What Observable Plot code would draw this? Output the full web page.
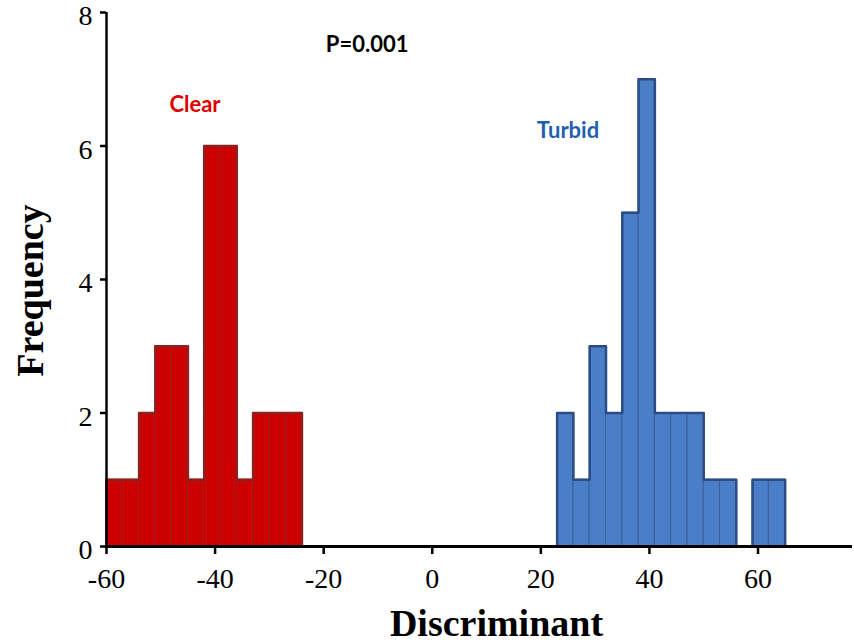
<!DOCTYPE html>
<html>
<head>
<meta charset="utf-8">
<script src="https://cdn.jsdelivr.net/npm/d3@7"></script>
<script src="https://cdn.jsdelivr.net/npm/@observablehq/plot@0.6"></script>
<style>
  html, body { margin: 0; padding: 0; background: #fff; }
  #chart svg { display: block; }
</style>
</head>
<body>
<div id="chart"></div>
<script>
// ---- data ----
const binWidth = 3;
const clearBinStart = [-60, -57, -54, -51, -48, -45, -42, -39, -36, -33, -30, -27];
const clearCounts   = [1, 1, 2, 3, 3, 1, 6, 6, 1, 2, 2, 2];
const turbidBinStart = [23, 26, 29, 32, 35, 38, 41, 44, 47, 50, 53, 56, 59, 62];
const turbidCounts   = [2, 1, 3, 2, 5, 7, 2, 2, 2, 1, 1, 0, 1, 1];
const xTicks = [-60, -40, -20, 0, 20, 40, 60];
const yTicks = [0, 2, 4, 6, 8];
const annoLabels = ["P=0.001", "Clear", "Turbid"];
const annoX = [-12.0, -43.7, 25.0];
const annoY = [7.52, 6.61, 6.23];
const xLabel = "Discriminant";
const yLabel = "Frequency";

// ---- tables built from the arrays ----
const bins = (starts, counts, group) =>
  starts.map((s, i) => ({x1: s, x2: s + binWidth, y: counts[i], group}));
const clearBins = bins(clearBinStart, clearCounts, "Clear");
const turbidBins = bins(turbidBinStart, turbidCounts, "Turbid");
const outline = (b) => {
  const pts = [{x: b[0].x1, y: 0}];
  b.forEach(d => { pts.push({x: d.x1, y: d.y}); pts.push({x: d.x2, y: d.y}); });
  pts.push({x: b[b.length - 1].x2, y: 0});
  return pts;
};
const annos = annoLabels.map((t, i) => ({t, x: annoX[i], y: annoY[i]}));

const serif = "'Liberation Serif', 'Times New Roman', serif";
const sans = "Lato, 'Open Sans', sans-serif";

const chart = Plot.plot({
  width: 854,
  height: 644,
  marginLeft: 106,
  marginRight: 2,
  marginTop: 12,
  marginBottom: 98,
  style: {fontFamily: serif, background: "#fff"},
  x: {domain: [-60, 77.4]},
  y: {domain: [0, 8]},
  marks: [
    Plot.rectY(clearBins.filter(d => d.y > 0), {x1: "x1", x2: "x2", y: "y", fill: "#CC0000", stroke: "#9A1E1E", strokeWidth: 1}),
    Plot.rectY(turbidBins.filter(d => d.y > 0), {x1: "x1", x2: "x2", y: "y", fill: "#4A7FC8", stroke: "#36609F", strokeWidth: 1}),
    Plot.line(outline(clearBins), {x: "x", y: "y", stroke: "#8A2222", strokeWidth: 2.5, strokeLinejoin: "round"}),
    Plot.line(outline(turbidBins), {x: "x", y: "y", stroke: "#2B4C85", strokeWidth: 2.5, strokeLinejoin: "round"}),
    Plot.ruleX([-60], {stroke: "#000", strokeWidth: 2.5}),
    Plot.ruleY([0], {stroke: "#000", strokeWidth: 3}),
    Plot.axisX({ticks: xTicks, tickSize: 8, tickPadding: 14, strokeWidth: 2.5, fontSize: 28, fontFamily: serif,
      fill: "#000", tickFormat: d => d < 0 ? "-" + Math.abs(d) : String(d), label: null}),
    Plot.axisY({ticks: yTicks, tickSize: 6, strokeWidth: 2.5, tickFormat: () => "", label: null}),
    Plot.text(yTicks, {x: -60, y: d => d, text: d => String(d), textAnchor: "end", dx: -14, dy: 4,
      fontSize: 28, fontFamily: serif, fill: "#000"}),
    Plot.text([xLabel], {frameAnchor: "bottom", dy: 89, dx: 17, text: d => d, fontSize: 38, fontWeight: "bold", fontFamily: serif, fill: "#000"}),
    Plot.text([yLabel], {frameAnchor: "left", textAnchor: "middle", dx: -76, dy: 11, rotate: -90, text: d => d, fontSize: 38, fontWeight: "bold", fontFamily: serif, fill: "#000"}),
    Plot.text(annos, {x: "x", y: "y", text: "t", fontSize: 22, fontWeight: "bold", fontFamily: sans,
      fill: d => d.t === "Clear" ? "#E00000" : d.t === "Turbid" ? "#1F5FAF" : "#000"})
  ]
});
document.getElementById("chart").appendChild(chart);
</script>
</body>
</html>
